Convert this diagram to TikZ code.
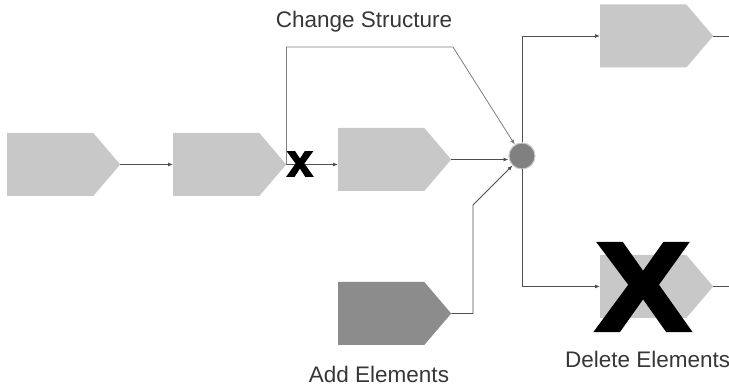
\documentclass[tikz,border=0pt]{standalone}
\usepackage{fontspec}
\setmainfont{Liberation Sans}
\newfontfamily\heavyfont[FakeBold=3]{Liberation Sans Bold}
\usetikzlibrary{shapes.symbols,arrows.meta}

\definecolor{boxgray}{RGB}{200,200,200}
\definecolor{darkbox}{RGB}{140,140,140}
\definecolor{hubgray}{RGB}{128,128,128}
\definecolor{linegray}{RGB}{80,80,80}
\definecolor{txtgray}{RGB}{55,55,55}

\tikzset{
  proc/.style={signal, signal to=east, signal pointer angle=99, fill=boxgray,
    draw=none, minimum width=113pt, minimum height=63pt, inner sep=0pt, anchor=west},
  addproc/.style={proc, fill=darkbox},
  hubnode/.style={circle, fill=hubgray, draw=boxgray, line width=1pt, minimum size=26pt, inner sep=0pt},
  flow/.style={draw=linegray, line width=0.8pt},
  flowarr/.style={flow, -{Latex[length=5pt,width=4pt]}},
  lbl/.style={text=txtgray, font=\fontsize{22.5}{26}\selectfont, inner sep=0pt},
}

\begin{document}
\begin{tikzpicture}[x=1pt, y=-1pt]
\useasboundingbox[fill=white] (0,0) rectangle (729,387);

\node[proc] (s1) at (7,164.5) {};
\node[proc] (s2) at (173,164.5) {};
\node[proc] (s3) at (338,159.5) {};
\node[proc] (s4) at (600,36) {};
\node[proc] (s5) at (600,286.5) {};
\node[addproc] (add) at (338,313.5) {};
\node[hubnode] (hub) at (522,156) {};

\coordinate (cs) at (453,47);
\coordinate (ae) at (473,205);
\coordinate (out4) at (729,36);
\coordinate (out5) at (729,286.5);

\draw[flowarr] (s1.east) -- (s2.west);
\draw[flowarr] (s2.east) -- (s2.east -| s3.west);
\draw[flowarr, draw=gray] (s2.east) |- (cs) -- (hub);
\draw[flowarr] (s3.east) -- (s3.east -| hub.west);
\draw[flowarr] (add.east) -| (ae) -- (hub);
\draw[flowarr] (hub.north) |- (s4.west);
\draw[flowarr] (hub.south) |- (s5.west);
\draw[flow] (s4.east) -- (out4);
\draw[flow] (s5.east) -- (out5);

% cut and delete marks
\node[inner sep=0pt, font=\fontsize{46}{46}\heavyfont] (cut) at (300,164) {x};
\node[inner sep=0pt, xscale=1.12, font=\fontsize{126}{126}\heavyfont] (del) at (643,287) {X};

\node[lbl, anchor=base] (lchange) at (364,28) {Change Structure};
\node[lbl, anchor=base] (ladd) at (379,383) {Add Elements};
\node[lbl, anchor=base west] (ldel) at (565,368) {Delete Elements};
\end{tikzpicture}
\end{document}
